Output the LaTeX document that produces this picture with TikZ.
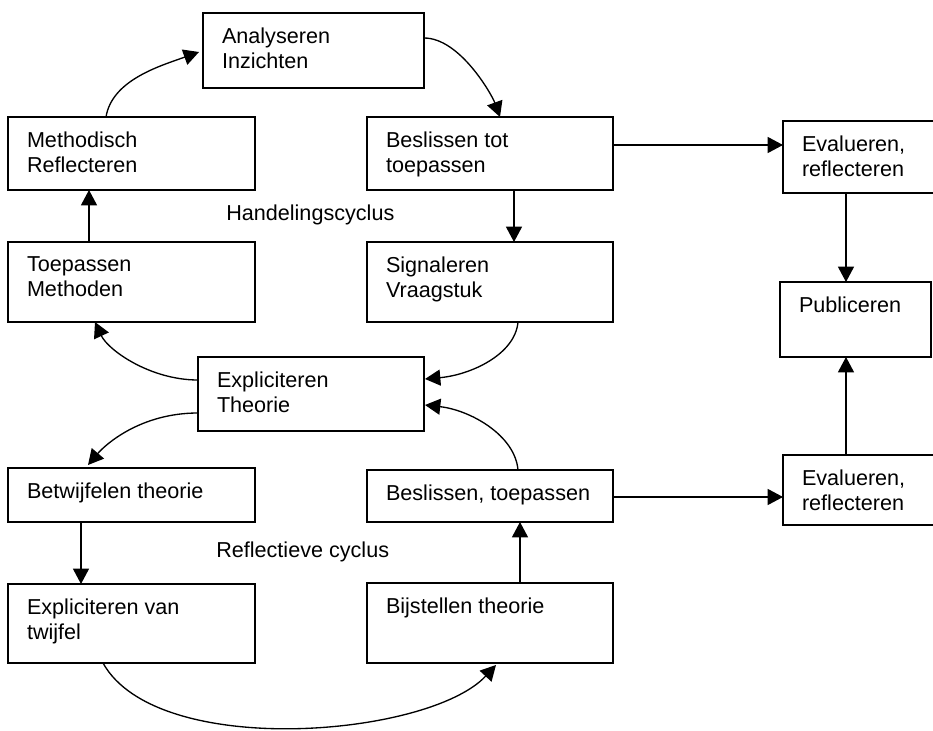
\documentclass[tikz,border=0pt]{standalone}
\usepackage{fontspec}
\setmainfont{Liberation Sans}
\usetikzlibrary{arrows.meta,calc}
\newcommand{\bxt}[3]{\parbox[c][#1][t]{#2}{\raggedright #3}}
\begin{document}
\begin{tikzpicture}[x=0.75pt,y=-0.75pt,
  bx/.style={draw, line width=1.1pt, anchor=north west, inner xsep=14.25pt,
    inner ysep=11.25pt, outer sep=0pt, font=\fontsize{16.2}{18.75}\selectfont},
  lbl/.style={anchor=base west, inner sep=0pt, font=\fontsize{16.2}{18.75}\selectfont},
  arr/.style={line width=1pt, -{Triangle[length=11.5pt,width=12pt]}}]
\fill[white] (0,0) rectangle (933,731);
\useasboundingbox (0,0) rectangle (933,731);

% boxes
\node[bx] (ana)   at (203,13)  {\bxt{33.75pt}{137.25pt}{Analyseren\\Inzichten}};
\node[bx] (meth)  at (8,117)   {\bxt{32.25pt}{156.75pt}{Methodisch\\Reflecteren}};
\node[bx] (bes1)  at (367,117) {\bxt{32.25pt}{156pt}{Beslissen tot\\toepassen}};
\node[bx] (eval1) at (783,121) {\bxt{31.5pt}{87.75pt}{Evalueren,\\reflecteren}};
\node[bx] (toep)  at (8,242)   {\bxt{37.5pt}{156.75pt}{Toepassen\\Methoden}};
\node[bx] (sig)   at (367,242) {\bxt{37.5pt}{156pt}{Signaleren\\Vraagstuk}};
\node[bx] (pub)   at (780,282) {\bxt{33.75pt}{84.75pt}{Publiceren}};
\node[bx] (expl)  at (198,357) {\bxt{33pt}{141pt}{Expliciteren\\Theorie}};
\node[bx] (betw)  at (8,468)   {\bxt{18pt}{156.75pt}{Betwijfelen theorie}};
\node[bx] (besl2) at (367,470) {\bxt{16.5pt}{156pt}{Beslissen, toepassen}};
\node[bx] (eval2) at (783,455) {\bxt{30pt}{87.75pt}{Evalueren,\\reflecteren}};
\node[bx] (twij)  at (8,584)   {\bxt{36.75pt}{156.75pt}{Expliciteren van\\twijfel}};
\node[bx] (bijs)  at (367,583) {\bxt{37.5pt}{156pt}{Bijstellen theorie}};

% labels
\node[lbl] (hc) at (226,221) {Handelingscyclus};
\node[lbl] (rc) at (216,557) {Reflectieve cyclus};

% connectors
\draw[arr] ($(meth.north west)+(98,0)$) .. controls (112,80) and (160,66) .. ($(ana.north west)+(-4,39)$);
\draw[arr] ($(ana.north east)+(0,25)$) .. controls (460,38) and (492,95) .. ($(bes1.north west)+(133,0)$);
\draw[arr] ($(toep.north west)+(81,0)$) -- ($(meth.south west)+(81,0)$);
\draw[arr] ($(bes1.south west)+(147,0)$) -- ($(sig.north west)+(147,0)$);
\draw[arr] ($(bes1.north east)+(0,28)$) -- ($(eval1.north west)+(0,24)$);
\draw[arr] ($(eval1.south west)+(63,0)$) -- ($(pub.north west)+(66,0)$);
\draw[arr] ($(eval2.north west)+(63,0)$) -- ($(pub.south west)+(66,0)$);
\draw[arr] ($(sig.south west)+(151,0)$) .. controls (515,355) and (470,375) .. ($(expl.north east)+(1,22)$);
\draw[arr] ($(besl2.north west)+(151,0)$) .. controls (515,435) and (470,410) .. ($(expl.north east)+(1,48)$);
\draw[arr] ($(expl.north west)+(0,23)$) .. controls (150,380) and (108,350) .. ($(toep.south west)+(87,0)$);
\draw[arr] ($(expl.north west)+(0,56)$) .. controls (140,413) and (105,445) .. ($(betw.north west)+(80,-3)$);
\draw[arr] ($(betw.south west)+(73,0)$) -- ($(twij.north west)+(73,0)$);
\draw[arr] ($(twij.south west)+(95,0)$) .. controls (157,760) and (429,737) .. ($(bijs.south west)+(129,2)$);
\draw[arr] ($(bijs.north west)+(153,0)$) -- ($(besl2.south west)+(153,0)$);
\draw[arr] ($(besl2.north east)+(0,27)$) -- ($(eval2.north west)+(0,42)$);
\end{tikzpicture}
\end{document}
